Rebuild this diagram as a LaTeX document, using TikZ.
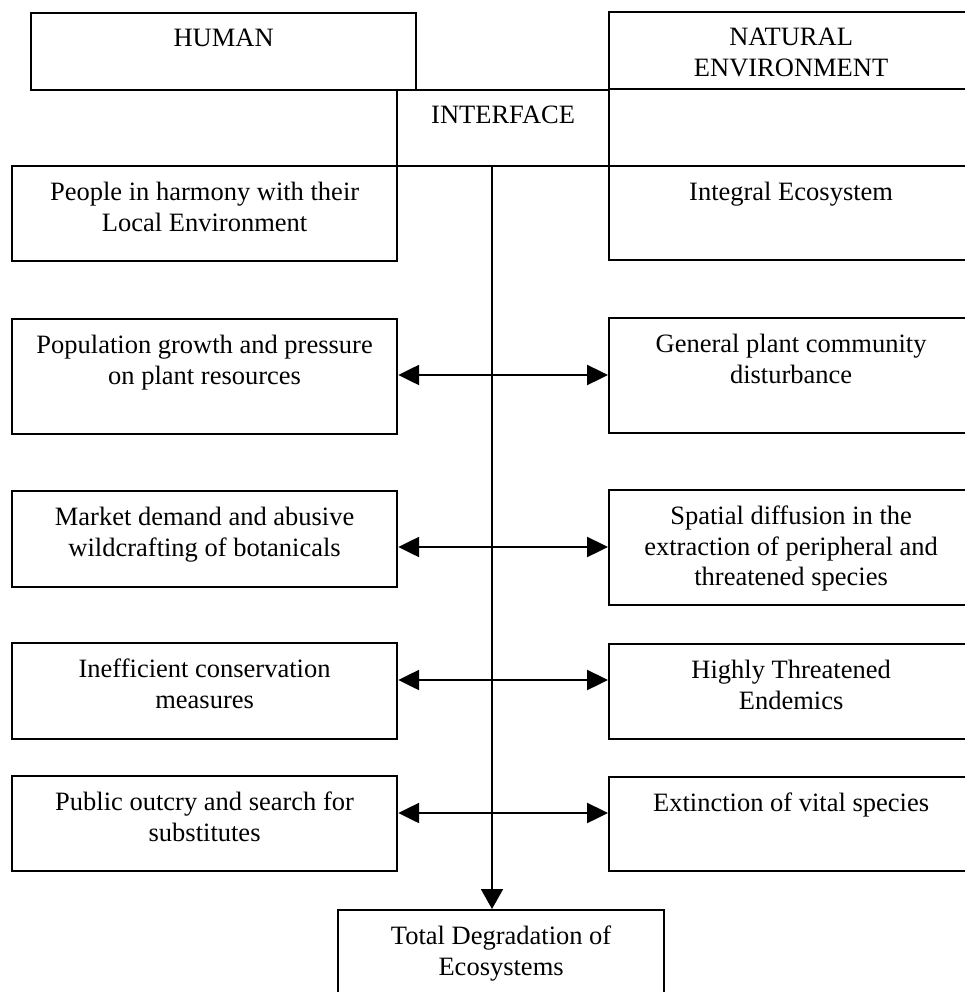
\documentclass[tikz,border=0pt]{standalone}
\usepackage{fontspec}
\setmainfont{Liberation Serif}
\usetikzlibrary{arrows.meta}
\begin{document}
\begin{tikzpicture}[x=1pt,y=-1pt,
  box/.style={draw, line width=2.2pt, inner sep=0pt, anchor=north west},
  txt/.style={font=\fontsize{26.5}{30.5}\selectfont, align=center, inner sep=0pt, anchor=north},
  link/.style={line width=2.4pt, {Triangle[length=21pt,width=20pt]}-{Triangle[length=21pt,width=20pt]}},
  downarrow/.style={line width=2pt, -{Triangle[length=20pt,width=22pt]}}]
\useasboundingbox (0,0) rectangle (965,992);
\clip (0,0) rectangle (965,992);
% boxes
\node[box, minimum width=385pt, minimum height=77pt] (human) at (30,12) {};
\node[box, minimum width=364pt, minimum height=77pt] (natenv) at (608,11) {};
\node[box, minimum width=212pt, minimum height=76pt] (interface) at (396,89) {};
\node[box, minimum width=385pt, minimum height=95pt] (people) at (11,165) {};
\node[box, minimum width=364pt, minimum height=94pt] (integral) at (608,165) {};
\node[box, minimum width=385pt, minimum height=115pt] (pop) at (11,318) {};
\node[box, minimum width=364pt, minimum height=115pt] (gen) at (608,317) {};
\node[box, minimum width=385pt, minimum height=96pt] (market) at (11,490) {};
\node[box, minimum width=364pt, minimum height=115pt] (spatial) at (608,489) {};
\node[box, minimum width=385pt, minimum height=96pt] (ineff) at (11,642) {};
\node[box, minimum width=364pt, minimum height=95pt] (highly) at (608,643) {};
\node[box, minimum width=385pt, minimum height=95pt] (public) at (11,775) {};
\node[box, minimum width=364pt, minimum height=94pt] (extinct) at (608,776) {};
\node[box, minimum width=326pt, minimum height=100pt] (total) at (337,909) {};
% texts
\node[txt] (humanT) at ([yshift=-17pt]human.north) {HUMAN};
\node[txt] (natenvT) at ([yshift=-17pt]natenv.north) {NATURAL\\ENVIRONMENT};
\node[txt] (interfaceT) at ([yshift=-17pt]interface.north) {INTERFACE};
\node[txt] (peopleT) at ([yshift=-17pt]people.north) {People in harmony with their\\Local Environment};
\node[txt] (integralT) at ([yshift=-17pt]integral.north) {Integral Ecosystem};
\node[txt] (popT) at ([yshift=-17pt]pop.north) {Population growth and pressure\\on plant resources};
\node[txt] (genT) at ([yshift=-17pt]gen.north) {General plant community\\disturbance};
\node[txt] (marketT) at ([yshift=-17pt]market.north) {Market demand and abusive\\wildcrafting of botanicals};
\node[txt] (spatialT) at ([yshift=-17pt]spatial.north) {Spatial diffusion in the\\extraction of peripheral and\\threatened species};
\node[txt] (ineffT) at ([yshift=-17pt]ineff.north) {Inefficient conservation\\measures};
\node[txt] (highlyT) at ([yshift=-17pt]highly.north) {Highly Threatened\\Endemics};
\node[txt] (publicT) at ([yshift=-17pt]public.north) {Public outcry and search for\\substitutes};
\node[txt] (extinctT) at ([yshift=-17pt]extinct.north) {Extinction of vital species};
\node[txt] (totalT) at ([yshift=-17pt]total.north) {Total Degradation of\\Ecosystems};
% central line
\coordinate (ctop) at (492,165);
\draw[downarrow] (ctop) -- (ctop |- total.north);
% double arrows
\draw[link] (pop.east |- 0,375) -- (gen.west |- 0,375);
\draw[link] (market.east |- 0,547) -- (spatial.west |- 0,547);
\draw[link] (ineff.east |- 0,680) -- (highly.west |- 0,680);
\draw[link] (public.east |- 0,813) -- (extinct.west |- 0,813);
\end{tikzpicture}
\end{document}
